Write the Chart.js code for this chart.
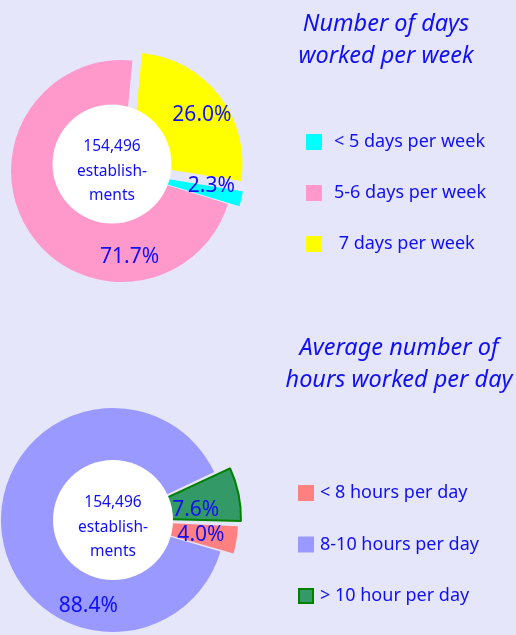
<!DOCTYPE html>
<html>
<head>
<meta charset="utf-8">
<title>Days and hours worked</title>
<script src="https://cdn.jsdelivr.net/npm/chart.js@4.4.1/dist/chart.umd.min.js"></script>
<style>
    html, body { margin: 0; padding: 0; background: #e6e6fa; }
    #wrap { position: relative; width: 516px; height: 635px; overflow: hidden; }
    canvas { position: absolute; left: 0; }
    #daysChart { top: 0; }
    #hoursChart { top: 317px; }
</style>
</head>
<body>
<div id="wrap">
    <canvas id="daysChart" width="516" height="318"></canvas>
    <canvas id="hoursChart" width="516" height="318"></canvas>
</div>
<script>
// данные
const dayCategories = ['< 5 days per week', '5-6 days per week', ' 7 days per week'];
const dayShares = [2.3, 71.7, 26.0];
const dayColors = ['#00ffff', '#ff99cc', '#ffff00'];

const hourCategories = ['< 8 hours per day', '8-10 hours per day', '> 10 hour per day'];
const hourShares = [4.0, 88.4, 7.6];
const hourColors = ['#ff8080', '#9999ff', '#339966'];

const establishments = 154496;

const TEXT_BLUE = '#1010f2';
const FONT = '"Noto Sans", "DejaVu Sans", sans-serif';

// белый круг в центре, подпись в нём и проценты на секторах
const donutDecor = {
    id: 'donutDecor',
    afterDatasetsDraw(chart, args, opts) {
        const ctx = chart.ctx;
        const meta = chart.getDatasetMeta(0);
        const ds = chart.data.datasets[0];
        const hx = meta.data[0].x + opts.holeShift[0];
        const hy = meta.data[0].y + opts.holeShift[1];

        ctx.save();
        ctx.beginPath();
        ctx.arc(hx, hy, opts.holeRadius, 0, Math.PI * 2);
        ctx.fillStyle = '#ffffff';
        ctx.fill();

        ctx.fillStyle = TEXT_BLUE;
        ctx.textAlign = 'center';
        ctx.textBaseline = 'middle';
        ctx.font = '15.5px ' + FONT;
        const lines = [establishments.toLocaleString('en-US'), 'establish-', 'ments'];
        lines.forEach((t, i) => ctx.fillText(t, hx, hy - 17 + i * 24.5));

        ctx.font = '21px ' + FONT;
        meta.data.forEach((arc, i) => {
            const p = arc.getProps(['x', 'y', 'startAngle', 'endAngle', 'outerRadius'], true);
            const mid = (p.startAngle + p.endAngle) / 2;
            const shift = (ds.offset[i] || 0) / 4;
            const ox = p.x + Math.cos(mid) * shift;
            const oy = p.y + Math.sin(mid) * shift;
            const spot = opts.labelSpots[i];
            const a = spot.angle == null ? mid : (spot.angle - 90) * Math.PI / 180;
            const r = p.outerRadius * spot.r;
            ctx.fillText(ds.data[i].toFixed(1) + '%', ox + Math.cos(a) * r, oy + Math.sin(a) * r);
        });
        ctx.restore();
    }
};

// заголовок и легенда справа
const sidePanel = {
    id: 'sidePanel',
    afterDraw(chart, args, opts) {
        const ctx = chart.ctx;
        const ds = chart.data.datasets[0];
        ctx.save();
        ctx.fillStyle = TEXT_BLUE;
        ctx.textBaseline = 'middle';
        ctx.textAlign = 'center';
        ctx.font = 'italic 23.5px ' + FONT;
        opts.title.forEach((t, i) => ctx.fillText(t, opts.titleX, opts.titleY + i * 32));

        ctx.textAlign = 'left';
        ctx.font = '18px ' + FONT;
        chart.data.labels.forEach((label, i) => {
            const y = opts.legendY + i * opts.legendGap;
            ctx.fillStyle = ds.backgroundColor[i];
            ctx.fillRect(opts.boxX, y - 8, 16, 16);
            if (opts.outlined[i]) {
                ctx.strokeStyle = ds.borderColor[i];
                ctx.lineWidth = 2;
                ctx.strokeRect(opts.boxX + 1, y - 7, 14, 14);
            }
            ctx.fillStyle = TEXT_BLUE;
            ctx.fillText(label, opts.textX, y);
        });
        ctx.restore();
    }
};

function baseOptions(padding, decor, side) {
    return {
        responsive: false,
        animation: false,
        events: [],
        layout: {padding: padding},
        plugins: {
            legend: {display: false},
            tooltip: {enabled: false},
            donutDecor: decor,
            sidePanel: side
        }
    };
}

new Chart(document.getElementById('daysChart'), {
    type: 'doughnut',
    data: {
        labels: dayCategories,
        datasets: [{
            data: dayShares,
            backgroundColor: dayColors,
            borderWidth: 0,
            offset: [25, 0, 48],
            radius: 111,
            cutout: '30%',
            rotation: 99
        }]
    },
    options: baseOptions(
        {left: 0, right: 272, top: 51, bottom: 27},
        {
            holeShift: [-10, -7],
            holeRadius: 59.5,
            labelSpots: [{angle: 99, r: 0.76}, {angle: 175, r: 0.78}, {angle: 55.5, r: 0.77}]
        },
        {
            title: ['Number of days', 'worked per week'],
            titleX: 386, titleY: 24,
            boxX: 306, textX: 334,
            legendY: 142, legendGap: 51,
            outlined: [false, false, false]
        }
    ),
    plugins: [donutDecor, sidePanel]
});

new Chart(document.getElementById('hoursChart'), {
    type: 'doughnut',
    data: {
        labels: hourCategories,
        datasets: [{
            data: hourShares,
            backgroundColor: hourColors,
            borderColor: ['#ffffff', '#ffffff', '#008000'],
            borderWidth: [0, 0, 2],
            offset: [30, 0, 42],
            radius: 112,
            cutout: '30%',
            rotation: 92
        }]
    },
    options: baseOptions(
        {left: 0, right: 290, top: 88, bottom: 0},
        {
            holeShift: [0, 0],
            holeRadius: 60,
            labelSpots: [{angle: 100, r: 0.73}, {angle: 196, r: 0.8}, {angle: 84, r: 0.65}]
        },
        {
            title: ['Average number of', 'hours worked per day'],
            titleX: 399, titleY: 31,
            boxX: 298, textX: 320,
            legendY: 176, legendGap: 51.5,
            outlined: [false, false, true]
        }
    ),
    plugins: [donutDecor, sidePanel]
});
</script>
</body>
</html>
